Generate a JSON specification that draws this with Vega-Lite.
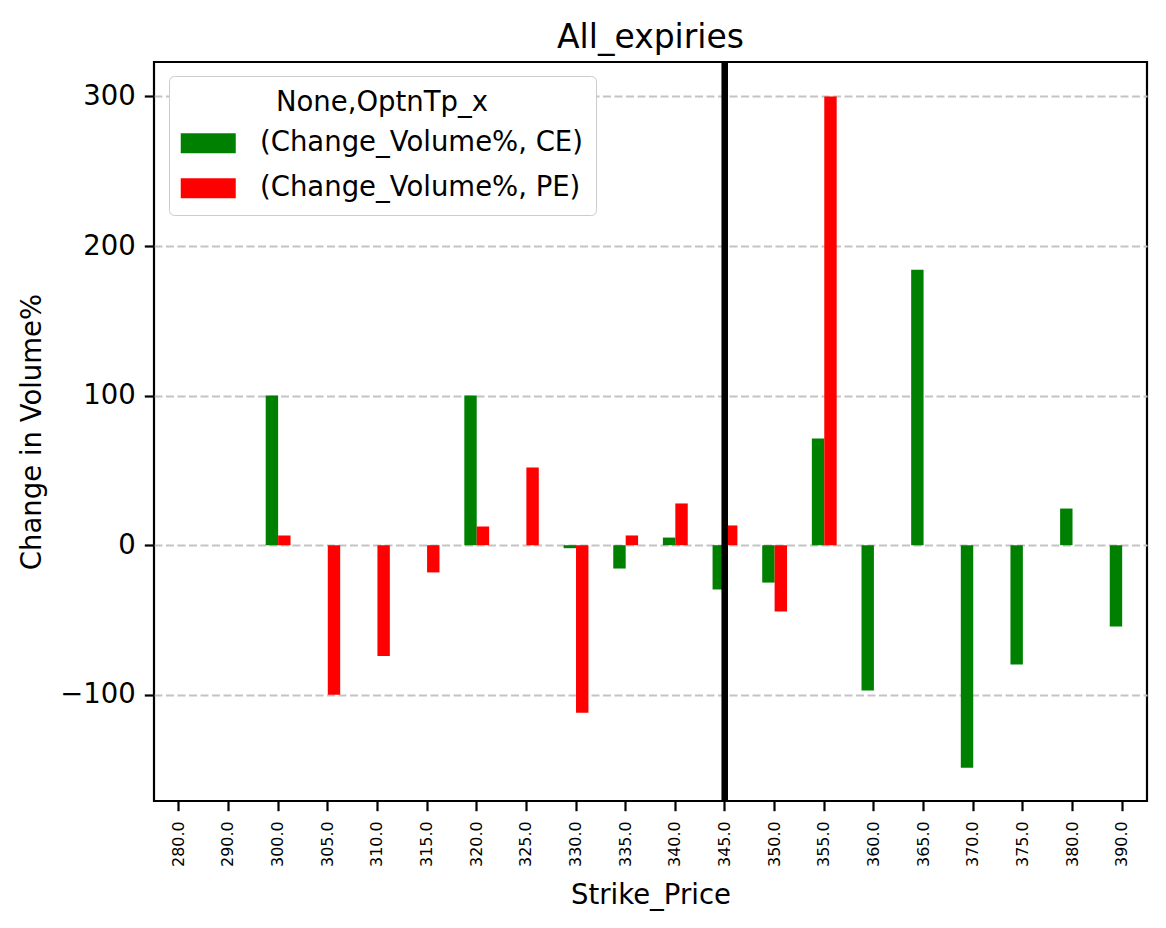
{
  "$schema": "https://vega.github.io/schema/vega-lite/v6.json",
  "width": 993,
  "height": 739,
  "autosize": {"type": "none"},
  "padding": {"left": 154, "top": 62, "right": 19, "bottom": 127},
  "title": {
    "text": "All_expiries",
    "fontSize": 33,
    "font": "DejaVu Sans",
    "fontWeight": "normal",
    "color": "black",
    "offset": 9,
    "baseline": "bottom",
    "dy": 38
  },
  "data": {
    "values": [
      {"strike": "300.0", "type": "CE", "change": 100},
      {"strike": "300.0", "type": "PE", "change": 6.5},
      {"strike": "305.0", "type": "PE", "change": -100},
      {"strike": "310.0", "type": "PE", "change": -74},
      {"strike": "315.0", "type": "PE", "change": -18.2},
      {"strike": "320.0", "type": "CE", "change": 100},
      {"strike": "320.0", "type": "PE", "change": 12.5},
      {"strike": "325.0", "type": "PE", "change": 52},
      {"strike": "330.0", "type": "CE", "change": -2},
      {"strike": "330.0", "type": "PE", "change": -112},
      {"strike": "335.0", "type": "CE", "change": -15.6},
      {"strike": "335.0", "type": "PE", "change": 6.5},
      {"strike": "340.0", "type": "CE", "change": 5.1},
      {"strike": "340.0", "type": "PE", "change": 27.9},
      {"strike": "345.0", "type": "CE", "change": -29.6},
      {"strike": "345.0", "type": "PE", "change": 13.2},
      {"strike": "350.0", "type": "CE", "change": -25},
      {"strike": "350.0", "type": "PE", "change": -44.4},
      {"strike": "355.0", "type": "CE", "change": 71.3},
      {"strike": "355.0", "type": "PE", "change": 300},
      {"strike": "360.0", "type": "CE", "change": -97.2},
      {"strike": "365.0", "type": "CE", "change": 184.2},
      {"strike": "370.0", "type": "CE", "change": -148.7},
      {"strike": "375.0", "type": "CE", "change": -79.8},
      {"strike": "380.0", "type": "CE", "change": 24.5},
      {"strike": "390.0", "type": "CE", "change": -54.4}
    ]
  },
  "encoding": {
    "x": {
      "field": "strike",
      "type": "nominal",
      "title": "Strike_Price",
      "scale": {
        "domain": ["280.0", "290.0", "300.0", "305.0", "310.0", "315.0", "320.0", "325.0", "330.0", "335.0", "340.0", "345.0", "350.0", "355.0", "360.0", "365.0", "370.0", "375.0", "380.0", "390.0"],
        "paddingInner": 0.5,
        "paddingOuter": 0.25
      },
      "axis": {
        "labelAngle": -90,
        "labelFontSize": 16,
        "labelPadding": 10,
        "titlePadding": 15
      }
    }
  },
  "layer": [
    {
      "mark": {"type": "bar"},
      "encoding": {
        "xOffset": {"field": "type", "type": "nominal", "scale": {"paddingInner": 0, "paddingOuter": 0}},
        "y": {
          "field": "change",
          "type": "quantitative",
          "title": "Change in Volume%",
          "scale": {"domain": [-171, 323], "nice": false, "zero": false},
          "axis": {
            "values": [-100, 0, 100, 200, 300],
            "grid": true,
            "gridDash": [8, 3.5],
            "gridColor": "#c4c4c4",
            "gridWidth": 1.8,
            "labelPadding": 9,
            "titlePadding": 13
          }
        },
        "color": {
          "field": "type",
          "type": "nominal",
          "scale": {"domain": ["CE", "PE"], "range": ["#008000", "#ff0000"]},
          "legend": {
            "title": "None,OptnTp_x",
            "orient": "none",
            "legendX": 15,
            "legendY": 14,
            "labelExpr": "'(Change_Volume%, ' + datum.label + ')'",
            "symbolType": "M-2.75,-1H2.75V1H-2.75Z",
            "symbolSize": 400,
            "symbolStrokeWidth": 0,
            "symbolOffset": 12.5,
            "labelOffset": 38,
            "rowPadding": 16,
            "titlePadding": 13,
            "padding": 13,
            "titleAnchor": "middle",
            "titleAlign": "center",
            "titleLimit": 600,
            "fillColor": "white",
            "strokeColor": "#cccccc",
            "cornerRadius": 5
          }
        }
      }
    },
    {
      "mark": {"type": "rule", "color": "black", "strokeWidth": 6},
      "encoding": {
        "x": {"datum": "345.0"}
      }
    }
  ],
  "config": {
    "font": "DejaVu Sans",
    "view": {"stroke": "black", "strokeWidth": 2.2},
    "axis": {
      "domain": false,
      "tickColor": "black",
      "tickWidth": 2.2,
      "tickSize": 9.7,
      "labelColor": "black",
      "labelFont": "DejaVu Sans",
      "labelFontSize": 27.5,
      "titleFont": "DejaVu Sans",
      "titleFontSize": 27.5,
      "titleFontWeight": "normal",
      "titleColor": "black",
      "grid": false
    },
    "legend": {
      "labelFont": "DejaVu Sans",
      "labelFontSize": 27.5,
      "labelColor": "black",
      "titleFont": "DejaVu Sans",
      "titleFontSize": 27.5,
      "titleFontWeight": "normal",
      "titleColor": "black",
      "labelLimit": 600
    }
  }
}
